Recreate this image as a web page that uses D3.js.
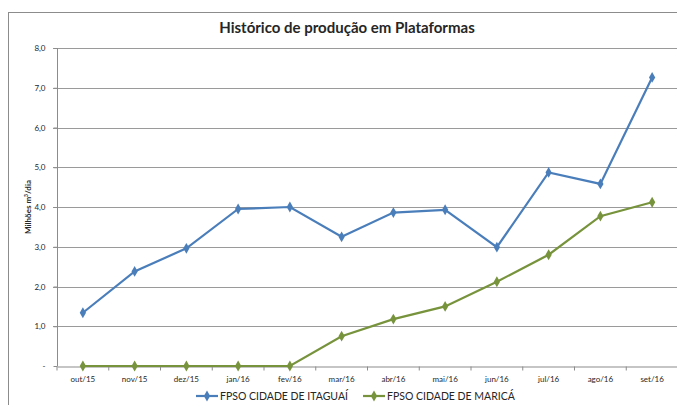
<!DOCTYPE html>
<html lang="pt">
<head>
<meta charset="UTF-8">
<title>Histórico de produção em Plataformas</title>
<script src="https://cdn.jsdelivr.net/npm/d3@7"></script>
<style>
  body { margin: 0; background: #fff; }
  text { font-family: Lato, "Open Sans", sans-serif; fill: #262626; }
</style>
</head>
<body>
<script>
// data
let months = ['out/15', 'nov/15', 'dez/15', 'jan/16', 'fev/16', 'mar/16',
  'abr/16', 'mai/16', 'jun/16', 'jul/16', 'ago/16', 'set/16'];
let itaguai = [1.34, 2.38, 2.96, 3.95, 4.0, 3.25, 3.86, 3.93, 2.99, 4.87, 4.58, 7.26];
let marica = [0, 0, 0, 0, 0, 0.75, 1.18, 1.5, 2.12, 2.8, 3.77, 4.12];
let yTicks = [0, 1, 2, 3, 4, 5, 6, 7, 8];

let width = 677;
let height = 405;
let plot = { left: 57, right: 678, top: 48, bottom: 366 };

let svg = d3.select('body').append('svg')
  .attr('width', width)
  .attr('height', height);

// chart border
svg.append('rect')
  .attr('x', 8.5).attr('y', 12.5)
  .attr('width', 700).attr('height', 420)
  .attr('fill', 'none')
  .attr('stroke', '#8c8c8c');

let x = d3.scaleBand()
  .domain(months)
  .range([plot.left, plot.right]);

let y = d3.scaleLinear()
  .domain([0, 8])
  .range([plot.bottom, plot.top]);

// gridlines
svg.append('g')
  .selectAll('line')
  .data(yTicks.slice(1))
  .join('line')
  .attr('x1', plot.left - 4).attr('x2', plot.right)
  .attr('y1', d => Math.round(y(d)) + 0.5)
  .attr('y2', d => Math.round(y(d)) + 0.5)
  .attr('stroke', '#9a9a9a')
  .attr('stroke-width', 1.2);

// y axis
let yAxis = d3.axisLeft(y)
  .tickValues(yTicks)
  .tickSize(4)
  .tickPadding(8)
  .tickFormat(d => d === 0 ? '-' : d3.format('.1f')(d).replace('.', ','));

svg.append('g')
  .attr('transform', 'translate(' + (plot.left + 0.5) + ',0)')
  .call(yAxis)
  .call(g => g.selectAll('line, path').attr('stroke', '#8c8c8c'))
  .call(g => g.select('.domain').attr('d', 'M0,' + plot.top + 'V' + plot.bottom))
  .call(g => g.selectAll('text').style('font-size', '8px').attr('fill', '#404040'));

// x axis
let xAxis = d3.axisBottom(x)
  .tickSize(0)
  .tickPadding(10);

let gx = svg.append('g')
  .attr('transform', 'translate(0,' + (plot.bottom + 0.5) + ')')
  .call(xAxis)
  .call(g => g.select('.domain').attr('stroke', '#8c8c8c').attr('stroke-width', 1.2))
  .call(g => g.selectAll('text').style('font-size', '8px').attr('fill', '#404040'));

gx.selectAll('.sep')
  .data(months)
  .join('line')
  .attr('class', 'sep')
  .attr('x1', d => x(d)).attr('x2', d => x(d))
  .attr('y1', 0).attr('y2', 4)
  .attr('stroke', '#8c8c8c');

// series
let series = [
  { name: 'FPSO CIDADE DE ITAGUAÍ', values: itaguai, color: '#4a7ebb' },
  { name: 'FPSO CIDADE DE MARICÁ', values: marica, color: '#77933c' }
];

let line = d3.line()
  .x((d, i) => x(months[i]) + x.bandwidth() / 2)
  .y(d => y(d));

let diamond = d3.symbol().type(d3.symbolDiamond).size(34);

series.forEach(s => {
  svg.append('path')
    .datum(s.values)
    .attr('d', line)
    .attr('fill', 'none')
    .attr('stroke', s.color)
    .attr('stroke-width', 2.2);

  svg.append('g')
    .selectAll('path')
    .data(s.values)
    .join('path')
    .attr('d', diamond)
    .attr('transform', (d, i) => 'translate(' + (x(months[i]) + x.bandwidth() / 2) + ',' + y(d) + ')')
    .attr('fill', s.color);
});

// title
svg.append('text')
  .attr('x', 347).attr('y', 33)
  .attr('text-anchor', 'middle')
  .style('font-size', '15px')
  .style('font-weight', 'bold')
  .attr('fill', '#000')
  .text('Histórico de produção em Plataformas');

// y label
svg.append('text')
  .attr('transform', 'translate(31,207) rotate(-90)')
  .attr('text-anchor', 'middle')
  .style('font-size', '8px')
  .style('font-weight', 'bold')
  .attr('fill', '#000')
  .html('Milhões  m<tspan dy="-3" style="font-size:5px">3</tspan><tspan dy="3">/dia</tspan>');

// legend
let legendX = [196, 363];
series.forEach((s, i) => {
  let g = svg.append('g')
    .attr('transform', 'translate(' + legendX[i] + ',396)');
  g.append('line')
    .attr('x1', 0).attr('x2', 22)
    .attr('stroke', s.color)
    .attr('stroke-width', 2.2);
  g.append('path')
    .attr('d', diamond)
    .attr('transform', 'translate(11,0)')
    .attr('fill', s.color);
  g.append('text')
    .attr('x', 24).attr('dy', '0.35em')
    .style('font-size', '10.5px')
    .attr('fill', '#262626')
    .text(s.name);
});
</script>
</body>
</html>
